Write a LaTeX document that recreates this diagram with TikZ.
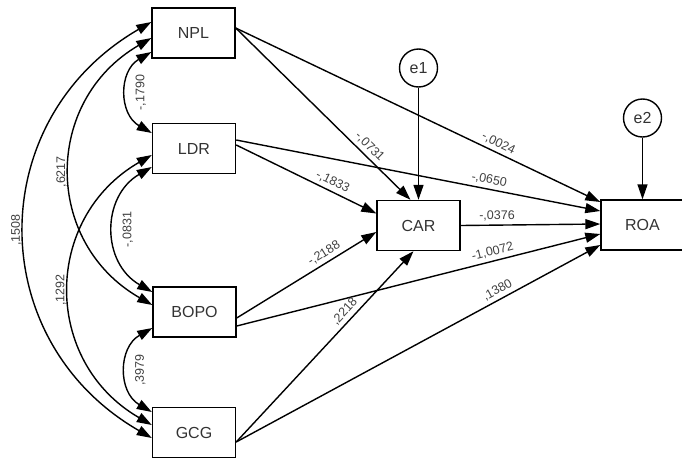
\documentclass[tikz,border=0pt]{standalone}
\usepackage{fontspec}
\setmainfont{Liberation Sans}
\usetikzlibrary{arrows.meta,positioning}

\begin{document}
\begin{tikzpicture}[x=1pt, y=-1pt,
  var/.style={draw, line width=1.4pt, minimum width=83pt, minimum height=50pt, font=\fontsize{16}{19}\selectfont, text=black!80},
  err/.style={draw, circle, line width=1.4pt, minimum size=38pt, inner sep=0pt, font=\fontsize{16}{19}\selectfont, text=black!80},
  effect/.style={-{Triangle[length=15pt,width=10pt]}, line width=1.4pt},
  cov/.style={{Triangle[length=15pt,width=10pt]}-{Triangle[length=15pt,width=10pt]}, line width=1.4pt, bend right=60, looseness=1.2},
  coef/.style={font=\fontsize{12.5}{15}\selectfont, text=black!75}]
  \useasboundingbox (0,0) rectangle (682,458);

  % observed variables
  \node[var] (NPL) at (193.5,33) {NPL};
  \node[var] (LDR) at (194,148.5) {LDR};
  \node[var] (BOPO) at (194.5,312) {BOPO};
  \node[var] (GCG) at (194,432.5) {GCG};
  \node[var] (CAR) at (418.5,225.5) {CAR};
  \node[var] (ROA) at (642.5,225) {ROA};
  \node[err] (e1) at (418.5,68) {e1};
  \node[err] (e2) at (642.5,118) {e2};

  % error terms
  \draw[effect] (e1) -- (CAR);
  \draw[effect] (e2) -- (ROA);

  % direct effects
  \draw[effect] ([yshift=5pt]NPL.east) -- ([xshift=-8pt]CAR.north) node[coef, pos=0.73, sloped, above] {-,0731};
  \draw[effect] ([yshift=5pt]NPL.east) -- ([yshift=23pt]ROA.west) node[coef, pos=0.71, sloped, above] {-,0024};
  \draw[effect] ([yshift=3.5pt]LDR.east) -- ([yshift=12pt]CAR.west) node[coef, pos=0.66, sloped, above] {-,1833};
  \draw[effect] ([yshift=8.5pt]LDR.east) -- ([yshift=14pt]ROA.west) node[coef, pos=0.69, sloped, above] {-,0650};
  \draw[effect] (CAR.east) -- ([yshift=1pt]ROA.west) node[coef, pos=0.26, above] {-,0376};
  \draw[effect] ([yshift=-6pt]BOPO.east) -- ([yshift=-6.5pt]CAR.west) node[coef, pos=0.66, sloped, above] {-,2188};
  \draw[effect] ([yshift=-14pt]BOPO.east) -- ([yshift=-9pt]ROA.west) node[coef, pos=0.71, sloped, above] {-1,0072};
  \draw[effect] ([yshift=-9.5pt]GCG.east) -- ([xshift=-5pt]CAR.south) node[coef, pos=0.65, sloped, above] {,2218};
  \draw[effect] ([yshift=-9.5pt]GCG.east) -- ([yshift=-20pt]ROA.west) node[coef, pos=0.73, sloped, above] {,1380};

  % covariances
  \draw[cov] ([yshift=-19pt]NPL.west) to node[coef, rotate=90, anchor=north, inner sep=8pt] {-,1790} ([yshift=15.5pt]LDR.west);
  \draw[cov] ([yshift=-5pt]NPL.west) to node[coef, rotate=90, anchor=south, inner sep=3pt] {,6217} ([yshift=7pt]BOPO.west);
  \draw[cov] ([yshift=11pt]NPL.west) to node[coef, rotate=90, anchor=south, inner sep=3pt] {,1508} ([yshift=-5.5pt]GCG.west);
  \draw[cov] ([yshift=-18.5pt]LDR.west) to node[coef, rotate=90, anchor=north, inner sep=8pt] {-,0831} ([yshift=20pt]BOPO.west);
  \draw[cov] ([yshift=-6.5pt]LDR.west) to node[coef, rotate=90, anchor=south, inner sep=3pt] {,1292} ([yshift=7.5pt]GCG.west);
  \draw[cov] ([yshift=-16pt]BOPO.west) to node[coef, rotate=90, anchor=north, inner sep=8pt] {,3979} ([yshift=20.5pt]GCG.west);
\end{tikzpicture}
\end{document}
